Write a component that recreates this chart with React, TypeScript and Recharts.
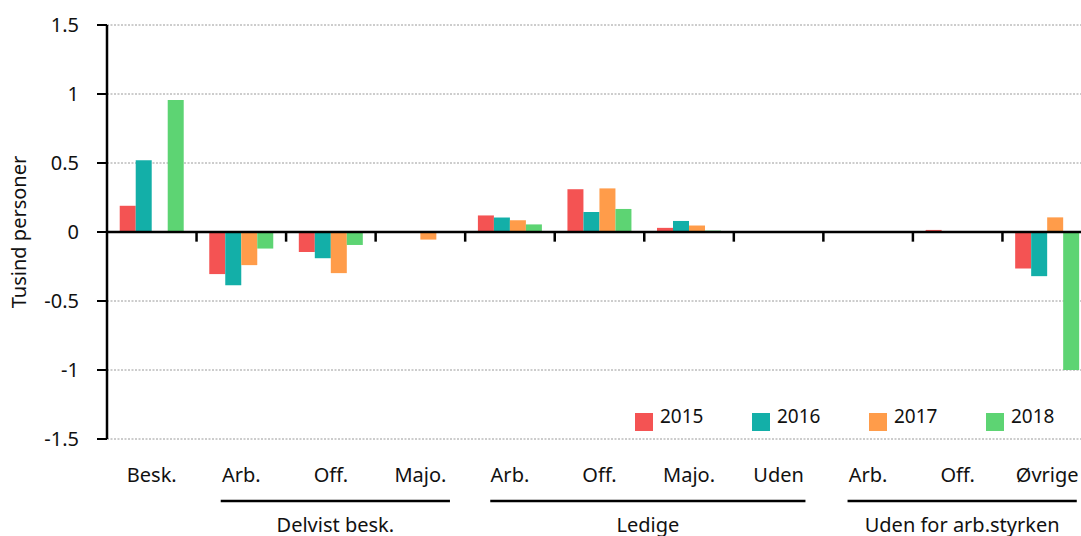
import { BarChart, Bar, XAxis, YAxis, CartesianGrid, ReferenceLine } from 'recharts'

// Kategorier langs x-aksen
const categories = ['Besk.', 'Arb.', 'Off.', 'Majo.', 'Arb.', 'Off.', 'Majo.', 'Uden', 'Arb.', 'Off.', 'Øvrige']
const years = ['2015', '2016', '2017', '2018']

// Ændring i tusind personer
const values2015 = [0.19, -0.305, -0.145, 0, 0.12, 0.31, 0.03, 0, 0.004, 0.015, -0.265]
const values2016 = [0.52, -0.385, -0.19, 0, 0.105, 0.145, 0.08, 0, 0, 0, -0.32]
const values2017 = [null, -0.24, -0.298, -0.055, 0.085, 0.316, 0.047, 0, 0, 0, 0.106]
const values2018 = [0.957, -0.12, -0.094, 0, 0.055, 0.167, 0.01, 0, 0, 0, -1.0]

const yTicks = [-1.5, -1, -0.5, 0, 0.5, 1, 1.5]
const groupNames = ['Delvist besk.', 'Ledige', 'Uden for arb.styrken']

const colors = ['#F45353', '#13AFA8', '#FF9C4A', '#5DD473']
const series = [values2015, values2016, values2017, values2018]

// spændvidde for gruppe-linjerne i båndenheder (0..11)
const groupSpans: [number, number][] = [[1.27, 3.83], [4.28, 7.8], [8.27, 10.83]]
const groupLineY = -1.95

const data = categories.map((name, i) => {
  const row: Record<string, string | number | null> = { name, pos: i + 0.5 }
  years.forEach((y, k) => { row[y] = series[k][i] })
  return row
})

const FONT = '"Noto Sans", sans-serif'

export default function App() {
  return (
    <div style={{ position: 'absolute', left: 0, top: 0, width: 1081, height: 536, overflow: 'hidden', background: '#fff', fontFamily: FONT }}>
      <BarChart
        width={1092}
        height={536}
        data={data}
        margin={{ top: 25, right: 0, bottom: 0, left: 0 }}
        barCategoryGap="14.2%"
        barGap={0}
        style={{ fontFamily: FONT }}
      >
        <CartesianGrid horizontal vertical={false} stroke="#9a9a9a" strokeDasharray="2 1.5" />
        <XAxis
          xAxisId="cat"
          dataKey="name"
          height={97}
          axisLine={false}
          tickLine={false}
          tickSize={0}
          tickMargin={29}
          interval={0}
          tick={{ fill: '#111', fontSize: 20 }}
        />
        <XAxis xAxisId="num" dataKey="pos" type="number" domain={[0, 11]} hide allowDataOverflow />
        <YAxis
          domain={[-1.5, 1.5]}
          ticks={yTicks}
          interval={0}
          width={107}
          axisLine={{ stroke: '#000', strokeWidth: 2.5 }}
          tickLine={{ stroke: '#000', strokeWidth: 2 }}
          tickSize={10}
          tickMargin={18}
          tick={{ fill: '#111', fontSize: 20 }}
          label={{
            content: (props: any) => {
              const vb = props.viewBox
              const cx = vb.x + 18
              const cy = vb.y + vb.height / 2
              return (
                <text x={cx} y={cy} transform={`rotate(-90, ${cx}, ${cy})`} textAnchor="middle" dominantBaseline="central" fill="#111" fontSize={20}>
                  Tusind personer
                </text>
              )
            },
          }}
        />
        {years.map((y, k) => (
          <Bar key={y} xAxisId="cat" dataKey={y} fill={colors[k]} isAnimationActive={false} />
        ))}
        <ReferenceLine xAxisId="num" y={0} stroke="#000" strokeWidth={2.5} />
        {categories.slice(1).map((_, i) => (
          <ReferenceLine
            key={'t' + i}
            xAxisId="num"
            segment={[{ x: i + 1, y: 0 }, { x: i + 1, y: -0.07 }]}
            stroke="#000"
            strokeWidth={2.5}
          />
        ))}
        {groupNames.map((g, i) => (
          <ReferenceLine
            key={g}
            xAxisId="num"
            ifOverflow="visible"
            segment={[{ x: groupSpans[i][0], y: groupLineY }, { x: groupSpans[i][1], y: groupLineY }]}
            stroke="#000"
            strokeWidth={2.5}
            label={{ value: g, position: 'bottom', offset: 17, fill: '#111', fontSize: 20 }}
          />
        ))}
      </BarChart>
      <div style={{ position: 'absolute', left: 635, top: 405, display: 'flex' }}>
        {years.map((y, k) => (
          <div key={y} style={{ width: 117, display: 'flex', alignItems: 'flex-start' }}>
            <div style={{ width: 18, height: 18, marginTop: 8, background: colors[k] }} />
            <div style={{ marginLeft: 7, fontSize: 19, lineHeight: '22px', color: '#111' }}>{y}</div>
          </div>
        ))}
      </div>
    </div>
  )
}
